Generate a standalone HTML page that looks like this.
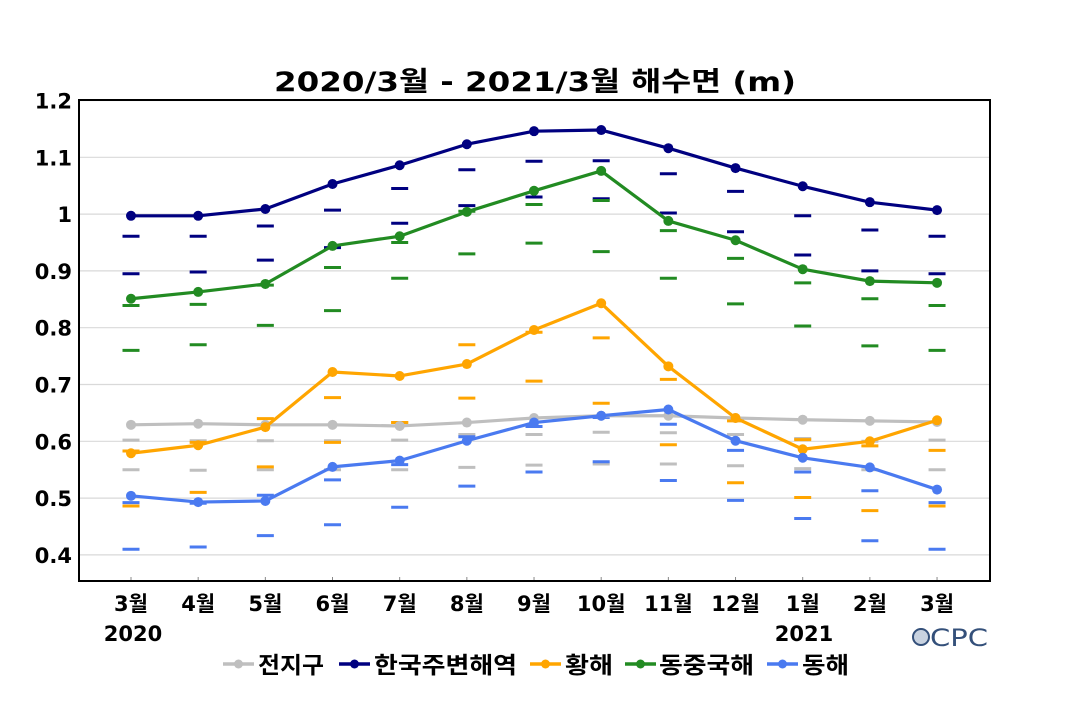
<!DOCTYPE html>
<html><head><meta charset="utf-8">
<style>
html,body{margin:0;padding:0;background:#fff;}
svg text{font-family:"DejaVu Sans","Noto Sans CJK KR",sans-serif;font-weight:bold;fill:#000;}
</style></head>
<body>
<svg id="chart" width="1070" height="700" viewBox="0 0 1070 700" xmlns="http://www.w3.org/2000/svg">
<rect width="1070" height="700" fill="#fff"/>
<text x="274" y="91" font-size="27" textLength="522" lengthAdjust="spacingAndGlyphs">2020/3월 - 2021/3월 해수면 (m)</text>
<g id="grid"></g>
<g id="yticks"></g>
<g id="xticks"></g>
<g id="marks"></g>
<rect x="79" y="100" width="911" height="481" fill="none" stroke="#000" stroke-width="2"/>
<text x="133" y="641" font-size="21" text-anchor="middle">2020</text>
<text x="804" y="641" font-size="21" text-anchor="middle">2021</text>
<g>
<circle cx="921" cy="637" r="8" fill="#c8d2e0" stroke="#34507a" stroke-width="2"/>
<text x="930" y="646" font-size="24" textLength="58" lengthAdjust="spacingAndGlyphs" style="fill:#34507a;font-weight:normal">CPC</text>
</g>
<g id="legend"></g>
</svg>
<script>
const months = ["3월","4월","5월","6월","7월","8월","9월","10월","11월","12월","1월","2월","3월"];
const yTicks = [0.4,0.5,0.6,0.7,0.8,0.9,1,1.1,1.2];
const seriesNames = ["전지구","한국주변해역","황해","동중국해","동해"];
const seriesColors = ["#bfbfbf","#000080","#ffa500","#228b22","#4a7af0"];
const globalVals = [0.629,0.631,0.629,0.629,0.627,0.633,0.641,0.645,0.645,0.641,0.638,0.636,0.634];
const koreaVals = [0.997,0.997,1.009,1.053,1.086,1.123,1.146,1.148,1.116,1.081,1.049,1.021,1.007];
const yellowVals = [0.579,0.593,0.625,0.722,0.715,0.736,0.796,0.843,0.732,0.641,0.586,0.600,0.637];
const ecsVals = [0.851,0.863,0.877,0.944,0.961,1.004,1.041,1.076,0.988,0.954,0.903,0.882,0.879];
const eastVals = [0.504,0.493,0.495,0.555,0.566,0.601,0.633,0.645,0.656,0.601,0.571,0.554,0.515];
const globalUpper = [0.602,0.601,0.601,0.601,0.602,0.612,0.612,0.616,0.615,0.612,0.605,0.600,0.602];
const globalLower = [0.550,0.549,0.550,0.550,0.550,0.554,0.558,0.560,0.560,0.557,0.552,0.550,0.550];
const koreaUpper = [0.961,0.961,0.979,1.007,1.045,1.078,1.093,1.094,1.071,1.040,0.997,0.972,0.961];
const koreaLower = [0.895,0.898,0.919,0.941,0.984,1.015,1.030,1.027,1.002,0.969,0.928,0.900,0.895];
const yellowUpper = [0.583,0.598,0.640,0.677,0.633,0.770,0.792,0.782,0.709,0.636,0.603,0.592,0.584];
const yellowLower = [0.486,0.510,0.555,0.598,0.633,0.676,0.706,0.667,0.594,0.527,0.501,0.478,0.486];
const ecsUpper = [0.839,0.841,0.875,0.906,0.950,1.005,1.017,1.024,0.971,0.922,0.879,0.851,0.839];
const ecsLower = [0.760,0.770,0.804,0.830,0.887,0.930,0.949,0.934,0.887,0.842,0.803,0.768,0.760];
const eastUpper = [0.492,0.491,0.505,0.532,0.559,0.608,0.626,0.642,0.630,0.584,0.546,0.513,0.492];
const eastLower = [0.410,0.414,0.434,0.453,0.484,0.521,0.546,0.564,0.531,0.496,0.464,0.425,0.410];

const NS="http://www.w3.org/2000/svg";
const X0=131, DX=67.17, Y12=100.5, PPU=568;
function xs(i){return X0+i*DX;}
function ys(v){return Y12+(1.2-v)*PPU;}
function mk(tag,attrs,parent){const e=document.createElementNS(NS,tag);for(const k in attrs)e.setAttribute(k,attrs[k]);parent.appendChild(e);return e;}

const grid=document.getElementById('grid'), yt=document.getElementById('yticks'), xt=document.getElementById('xticks'), marks=document.getElementById('marks'), legend=document.getElementById('legend');
yTicks.forEach(t=>{
  const l=mk('line',{x1:79,x2:990,y1:ys(t),y2:ys(t),stroke:'#d9d9d9','stroke-width':1.2},grid);
  
  
  const tx=mk('text',{x:72,y:ys(t)+8,'font-size':21,'text-anchor':'end'},yt);
  tx.textContent=String(t);
  
  
});
months.forEach((m,i)=>{
  const tk=mk('line',{x1:xs(i),x2:xs(i),y1:577,y2:581,stroke:'#888','stroke-width':1},xt);
  
  
  const tx=mk('text',{x:xs(i),y:611,'font-size':21,'text-anchor':'middle'},xt);
  tx.textContent=m;
  
  
});
const vals=[globalVals,koreaVals,yellowVals,ecsVals,eastVals];
const ups=[globalUpper,koreaUpper,yellowUpper,ecsUpper,eastUpper];
const lows=[globalLower,koreaLower,yellowLower,ecsLower,eastLower];
const keys=['global','korea','yellow-sea','east-china-sea','east-sea'];
[0,1,2,3,4].forEach(s=>{
  const c=seriesColors[s];
  [ups[s],lows[s]].forEach((arr,j)=>{
    arr.forEach((v,i)=>{
      const d=mk('line',{x1:xs(i)-8.5,x2:xs(i)+8.5,y1:ys(v),y2:ys(v),stroke:c,'stroke-width':3},marks);
      
      
    });
  });
});
[0,1,2,3,4].forEach(s=>{
  const c=seriesColors[s];
  const p=mk('polyline',{points:vals[s].map((v,i)=>xs(i)+','+ys(v)).join(' '),fill:'none',stroke:c,'stroke-width':3.2,'stroke-linejoin':'round'},marks);
  
  
  vals[s].forEach((v,i)=>{
    const pt=mk('circle',{cx:xs(i),cy:ys(v),r:5,fill:c},marks);
    
    
  });
});
const legX=[223,339,530,625,767];
const legTX=[258,374,565,659,802];
const legTW=[66,143,48,95,47];
seriesNames.forEach((n,s)=>{
  const g=mk('g',{},legend);
  
  
  mk('line',{x1:legX[s],x2:legX[s]+31,y1:664,y2:664,stroke:seriesColors[s],'stroke-width':3.5},g);
  mk('circle',{cx:legX[s]+15.5,cy:664,r:4.5,fill:seriesColors[s]},g);
  const t=mk('text',{x:legTX[s],y:673,'font-size':23,textLength:legTW[s],lengthAdjust:'spacingAndGlyphs'},g);
  t.textContent=n;
});
</script>
</body></html>
